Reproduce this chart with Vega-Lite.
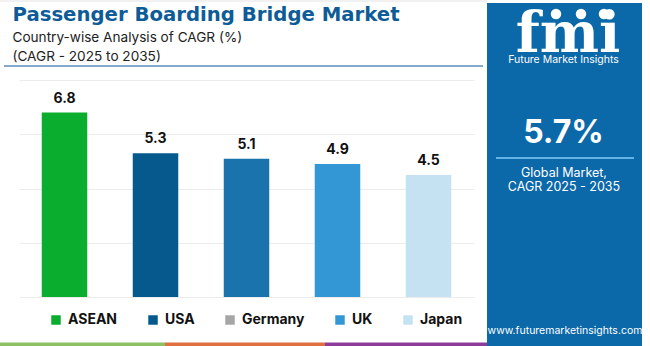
{
  "$schema": "https://vega.github.io/schema/vega-lite/v6.json",
  "width": 455,
  "height": 217,
  "autosize": {"type": "none"},
  "padding": {"left": 19, "top": 80, "right": 176, "bottom": 49},
  "background": "white",
  "config": {"view": {"stroke": null}, "font": "Inter"},
  "resolve": {"scale": {"x": "independent"}},
  "layer": [
    {
      "data": {"values": [{}]},
      "mark": {"type": "rule", "color": "#e3e3e3", "strokeWidth": 1, "clip": false},
      "encoding": {
        "x": {"datum": -0.0418, "type": "quantitative", "scale": {"domain": [0, 1]}, "axis": null},
        "x2": {"datum": 1.0286},
        "y": {"datum": 10.912, "type": "quantitative"}
      }
    },
    {
      "data": {
        "values": [
          {"country": "ASEAN", "cagr": 6.8},
          {"country": "USA", "cagr": 5.3},
          {"country": "Germany", "cagr": 5.1},
          {"country": "UK", "cagr": 4.9},
          {"country": "Japan", "cagr": 4.5}
        ]
      },
      "encoding": {
        "x": {
          "field": "country",
          "type": "nominal",
          "sort": null,
          "scale": {"paddingInner": 0.5, "paddingOuter": 0.25},
          "axis": null
        },
        "y": {
          "field": "cagr",
          "type": "quantitative",
          "scale": {"domain": [0, 8], "nice": false},
          "axis": {
            "values": [0, 1, 2, 3, 4, 5, 6, 7, 8],
            "labels": false,
            "ticks": false,
            "domain": false,
            "title": null,
            "grid": true,
            "gridColor": "#ececec",
            "gridWidth": 1
          }
        }
      },
      "layer": [
        {
          "mark": {"type": "bar"},
          "encoding": {
            "color": {
              "field": "country",
              "type": "nominal",
              "scale": {
                "domain": ["ASEAN", "USA", "Germany", "UK", "Japan"],
                "range": ["#0aad2e", "#05598d", "#1b73ad", "#3497d5", "#c4e2f2"]
              },
              "legend": null
            }
          }
        },
        {
          "mark": {"type": "text", "baseline": "alphabetic", "dy": -10, "fontSize": 14, "fontWeight": "bold", "color": "#111111", "font": "Inter"},
          "encoding": {"text": {"field": "cagr", "type": "quantitative", "format": ".1f"}}
        }
      ]
    },
    {
      "data": {
        "values": [
          {"legendName": "ASEAN"},
          {"legendName": "USA"},
          {"legendName": "Germany"},
          {"legendName": "UK"},
          {"legendName": "Japan"}
        ]
      },
      "mark": {"type": "square", "opacity": 0, "filled": true, "clip": false},
      "encoding": {
        "fill": {
          "field": "legendName",
          "type": "nominal",
          "sort": null,
          "scale": {
            "range": ["#0aad2e", "#05598d", "#a6a6a6", "#3497d5", "#c4e2f2"]
          },
          "legend": {
            "orient": "none",
            "legendX": 30,
            "legendY": 233,
            "direction": "horizontal",
            "title": null,
            "symbolType": "square",
            "symbolSize": 90,
            "symbolOpacity": 1,
            "labelFont": "Inter",
            "labelFontSize": 14,
            "labelFontWeight": "bold",
            "labelColor": "#111111",
            "labelOffset": 5,
            "columnPadding": 28
          }
        }
      }
    },
    {
      "data": {"values": [{}]},
      "mark": {"type": "text", "text": "Passenger Boarding Bridge Market", "font": "DejaVu Sans", "fontSize": 19.7, "fontWeight": "bold", "color": "#0e5c97", "align": "left", "baseline": "alphabetic", "clip": false},
      "encoding": {
        "x": {"datum": -0.0143, "type": "quantitative", "scale": {"domain": [0, 1]}, "axis": null},
        "y": {"datum": 10.175, "type": "quantitative"}
      }
    },
    {
      "data": {"values": [{}]},
      "mark": {"type": "text", "text": ["Country-wise Analysis of CAGR (%)", "(CAGR - 2025 to 2035)"], "lineHeight": 19, "font": "Inter", "fontSize": 13.6, "color": "#222222", "align": "left", "baseline": "alphabetic", "clip": false},
      "encoding": {
        "x": {"datum": -0.0143, "type": "quantitative", "scale": {"domain": [0, 1]}, "axis": null},
        "y": {"datum": 9.419, "type": "quantitative"}
      }
    },
    {
      "data": {"values": [{}]},
      "mark": {"type": "rule", "color": "#5b8db8", "strokeWidth": 1.5, "clip": false},
      "encoding": {
        "x": {"datum": -0.033, "type": "quantitative", "scale": {"domain": [0, 1]}, "axis": null},
        "x2": {"datum": 1.0198},
        "y": {"datum": 8.516, "type": "quantitative"}
      }
    },
    {
      "data": {"values": [{}]},
      "mark": {"type": "rect", "color": "#8cc063", "clip": false},
      "encoding": {
        "x": {"datum": -0.0418, "type": "quantitative", "scale": {"domain": [0, 1]}, "axis": null},
        "x2": {"datum": 0.3209},
        "y": {"datum": -1.677, "type": "quantitative"},
        "y2": {"datum": -1.806}
      }
    },
    {
      "data": {"values": [{}]},
      "mark": {"type": "rect", "color": "#e0703f", "clip": false},
      "encoding": {
        "x": {"datum": 0.3209, "type": "quantitative", "scale": {"domain": [0, 1]}, "axis": null},
        "x2": {"datum": 0.6725},
        "y": {"datum": -1.677, "type": "quantitative"},
        "y2": {"datum": -1.806}
      }
    },
    {
      "data": {"values": [{}]},
      "mark": {"type": "rect", "color": "#8e3c99", "clip": false},
      "encoding": {
        "x": {"datum": 0.6725, "type": "quantitative", "scale": {"domain": [0, 1]}, "axis": null},
        "x2": {"datum": 1.0286},
        "y": {"datum": -1.677, "type": "quantitative"},
        "y2": {"datum": -1.806}
      }
    },
    {
      "data": {"values": [{}]},
      "mark": {"type": "rect", "color": "#0b68a9", "clip": false},
      "encoding": {
        "x": {"datum": 1.0286, "type": "quantitative", "scale": {"domain": [0, 1]}, "axis": null},
        "x2": {"datum": 1.3692},
        "y": {"datum": 10.839, "type": "quantitative"},
        "y2": {"datum": -1.806}
      }
    },
    {
      "data": {"values": [{}]},
      "mark": {"type": "text", "text": "fmi", "font": "DejaVu Serif", "fontSize": 56, "fontWeight": "bold", "color": "white", "align": "center", "baseline": "alphabetic", "clip": false},
      "encoding": {
        "x": {"datum": 1.2066, "type": "quantitative", "scale": {"domain": [0, 1]}, "axis": null},
        "y": {"datum": 9.03, "type": "quantitative"}
      }
    },
    {
      "data": {"values": [{}]},
      "mark": {"type": "circle", "size": 110, "color": "white", "opacity": 1, "clip": false},
      "encoding": {
        "x": {"datum": 1.1802, "type": "quantitative", "scale": {"domain": [0, 1]}, "axis": null},
        "y": {"datum": 10.433, "type": "quantitative"}
      }
    },
    {
      "data": {"values": [{}]},
      "mark": {"type": "circle", "size": 110, "color": "white", "opacity": 1, "clip": false},
      "encoding": {
        "x": {"datum": 1.2352, "type": "quantitative", "scale": {"domain": [0, 1]}, "axis": null},
        "y": {"datum": 10.433, "type": "quantitative"}
      }
    },
    {
      "data": {"values": [{}]},
      "mark": {"type": "circle", "size": 110, "color": "white", "opacity": 1, "clip": false},
      "encoding": {
        "x": {"datum": 1.2857, "type": "quantitative", "scale": {"domain": [0, 1]}, "axis": null},
        "y": {"datum": 10.433, "type": "quantitative"}
      }
    },
    {
      "data": {"values": [{}]},
      "mark": {"type": "text", "text": "Future Market Insights", "font": "Inter", "fontSize": 10.5, "color": "white", "align": "center", "baseline": "alphabetic", "clip": false},
      "encoding": {
        "x": {"datum": 1.1967, "type": "quantitative", "scale": {"domain": [0, 1]}, "axis": null},
        "y": {"datum": 8.62, "type": "quantitative"}
      }
    },
    {
      "data": {"values": [{}]},
      "mark": {"type": "text", "text": "5.7%", "font": "Inter", "fontSize": 32, "fontWeight": "bold", "color": "white", "align": "center", "baseline": "alphabetic", "clip": false},
      "encoding": {
        "x": {"datum": 1.1967, "type": "quantitative", "scale": {"domain": [0, 1]}, "axis": null},
        "y": {"datum": 5.677, "type": "quantitative"}
      }
    },
    {
      "data": {"values": [{}]},
      "mark": {"type": "rule", "color": "#63b3e8", "strokeWidth": 2, "clip": false},
      "encoding": {
        "x": {"datum": 1.0484, "type": "quantitative", "scale": {"domain": [0, 1]}, "axis": null},
        "x2": {"datum": 1.3516},
        "y": {"datum": 5.124, "type": "quantitative"}
      }
    },
    {
      "data": {"values": [{}]},
      "mark": {"type": "text", "text": ["Global Market,", "CAGR 2025 - 2035"], "lineHeight": 14, "font": "Inter", "fontSize": 12.5, "color": "white", "align": "center", "baseline": "alphabetic", "clip": false},
      "encoding": {
        "x": {"datum": 1.1978, "type": "quantitative", "scale": {"domain": [0, 1]}, "axis": null},
        "y": {"datum": 4.406, "type": "quantitative"}
      }
    },
    {
      "data": {"values": [{}]},
      "mark": {"type": "text", "text": "www.futuremarketinsights.com", "font": "Inter", "fontSize": 10.5, "color": "white", "align": "center", "baseline": "alphabetic", "clip": false},
      "encoding": {
        "x": {"datum": 1.2, "type": "quantitative", "scale": {"domain": [0, 1]}, "axis": null},
        "y": {"datum": -1.382, "type": "quantitative"}
      }
    }
  ]
}
